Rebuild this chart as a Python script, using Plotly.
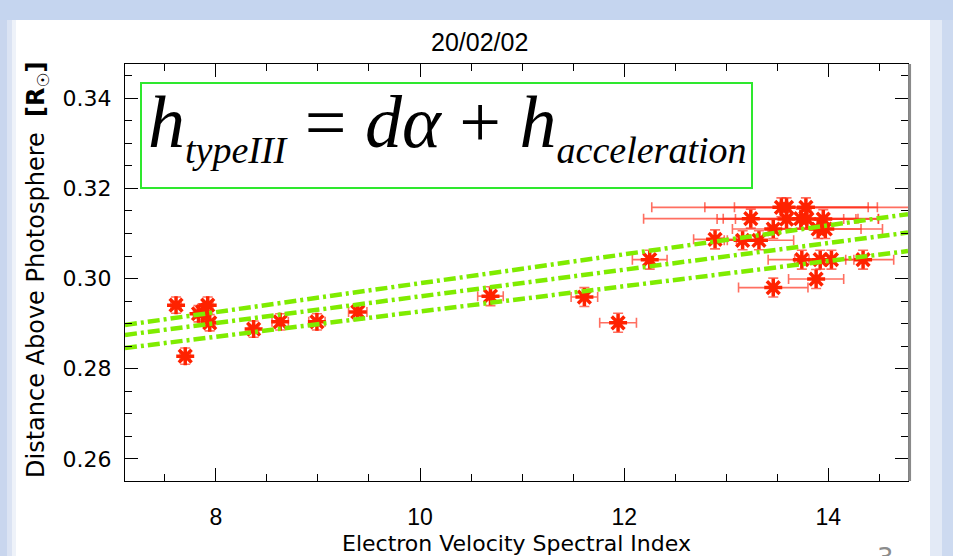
import plotly.graph_objects as go

# Electron velocity spectral index vs. height of type III onset, 20/02/02
alpha = [7.61, 7.70, 7.83, 7.87, 7.92, 7.94, 8.37, 8.63, 8.99, 9.39, 10.69, 11.61, 11.94,
         12.25, 12.89, 13.16, 13.32, 13.24, 13.46, 13.54, 13.59, 13.78, 13.59, 13.73,
         13.79, 13.95, 13.90, 13.97, 13.74, 13.92, 14.03, 14.34, 13.88, 13.46]
height = [0.2941, 0.2828, 0.2922, 0.2926, 0.2941, 0.2902, 0.2888, 0.2904, 0.2904, 0.2926,
          0.2961, 0.2959, 0.2902,
          0.3042, 0.3087, 0.3085, 0.3085, 0.3133, 0.3110, 0.3158, 0.3158, 0.3158, 0.3132,
          0.3133, 0.3132, 0.3132, 0.3110, 0.3110, 0.3042, 0.3042, 0.3042, 0.3042, 0.2999,
          0.2980]
alpha_err = [0.05, 0.05, 0.05, 0.05, 0.05, 0.05, 0.05, 0.08, 0.08, 0.09, 0.125, 0.13, 0.18,
             0.17, 0.21, 0.15, 0.34, 1.05, 0.40, 1.27, 0.80, 0.70, 0.68, 0.76,
             0.70, 0.20, 0.42, 0.56, 0.33, 0.25, 0.22, 0.30, 0.27, 0.34]
height_err = [0.0018] * 10 + [0.0021] * 24

# linear fit with its two bounding lines, given at the x-axis limits
fit_x = [7.11, 14.78]
fit_upper = [0.2897, 0.3143]
fit_mid = [0.2875, 0.3102]
fit_lower = [0.2846, 0.3061]

x_range = [7.11, 14.78]
y_range = [0.2551, 0.3476]
x_ticks = [8, 10, 12, 14]
y_ticks = [0.26, 0.28, 0.30, 0.32, 0.34]

W, H = 953, 556
L, R, T, B = 125, 45, 64, 75
PW, PH = W - L - R, H - T - B


def px(xp):
    return (xp - L) / PW


def py(yp):
    return (H - B - yp) / PH


fig = go.Figure()

fig.add_trace(go.Scatter(
    x=alpha, y=height, mode="markers",
    marker=dict(symbol="asterisk-open", size=15, color="#ff2200",
                line=dict(color="#ff2200", width=3.5)),
    error_x=dict(type="data", array=alpha_err, color="rgba(255,50,30,0.7)",
                 thickness=1.6, width=5),
    error_y=dict(type="data", array=height_err, color="rgba(255,50,30,0.7)",
                 thickness=1.6, width=5),
    showlegend=False, hoverinfo="skip",
))

for ys in (fit_upper, fit_mid, fit_lower):
    fig.add_trace(go.Scatter(
        x=fit_x, y=ys, mode="lines",
        line=dict(color="#7fec00", width=4.5, dash="12px,4px,3px,4px"),
        showlegend=False, hoverinfo="skip",
    ))

axis_font = dict(family="Liberation Sans", size=23, color="#000")

fig.update_xaxes(
    range=x_range, tickvals=x_ticks, ticktext=[str(v) for v in x_ticks],
    ticks="inside", ticklen=13, tickwidth=1, tickcolor="#000",
    showline=True, linecolor="#000", linewidth=1, mirror="allticks",
    showgrid=False, zeroline=False, tickfont=axis_font,
    ticklabelstandoff=15,
    minor=dict(dtick=0.5, tick0=0, ticks="inside", ticklen=7, tickcolor="#000",
               showgrid=False),
)
fig.update_yaxes(
    range=y_range, tickvals=y_ticks, ticktext=[f"{v:.2f}" for v in y_ticks],
    ticks="inside", ticklen=13, tickwidth=1, tickcolor="#000",
    showline=True, linecolor="#000", linewidth=1, mirror="allticks",
    showgrid=False, zeroline=False,
    tickfont=dict(family="DejaVu Sans", size=22, color="#000"),
    ticklabelstandoff=8,
    minor=dict(dtick=0.005, tick0=0, ticks="inside", ticklen=7, tickcolor="#000",
               showgrid=False),
)

shapes = [
    # slide frame: top band and side gradients
    dict(type="rect", xref="paper", yref="paper", x0=px(0), x1=px(W), y0=py(20), y1=py(0),
         fillcolor="#c5d5ef", line_width=0, layer="below"),
    dict(type="rect", xref="paper", yref="paper", x0=px(0), x1=px(7), y0=py(H), y1=py(20),
         fillcolor="#c9d6ee", line_width=0, layer="below"),
    dict(type="rect", xref="paper", yref="paper", x0=px(7), x1=px(12), y0=py(H), y1=py(20),
         fillcolor="#dbe3f3", line_width=0, layer="below"),
    dict(type="rect", xref="paper", yref="paper", x0=px(12), x1=px(16), y0=py(H), y1=py(20),
         fillcolor="#eef2f9", line_width=0, layer="below"),
    dict(type="rect", xref="paper", yref="paper", x0=px(942), x1=px(W), y0=py(H), y1=py(20),
         fillcolor="#cddaf0", line_width=0, layer="below"),
    dict(type="rect", xref="paper", yref="paper", x0=px(930), x1=px(942), y0=py(H), y1=py(20),
         fillcolor="#e3eaf6", line_width=0, layer="below"),
    # grey right-hand frame edge
    dict(type="line", xref="paper", yref="paper", x0=1.002, x1=1.002, y0=0, y1=1,
         line=dict(color="#8a8a8a", width=3)),
    # equation box
    dict(type="rect", xref="paper", yref="paper", x0=px(141), x1=px(752), y0=py(188), y1=py(83),
         fillcolor="white", line=dict(color="#2ee82e", width=2), layer="above"),
]

annotations = [
    dict(text="20/02/02", xref="paper", yref="paper", x=px(479), y=py(42),
         xanchor="center", yanchor="middle", showarrow=False,
         font=dict(family="Liberation Sans", size=25, color="#000")),
    dict(text="Electron Velocity Spectral Index", xref="paper", yref="paper",
         x=px(516), y=py(543), xanchor="center", yanchor="middle", showarrow=False,
         font=dict(family="DejaVu Sans", size=22, color="#000")),
    dict(text="Distance Above Photosphere  <b>[R<sub>☉</sub>]</b>", xref="paper", yref="paper",
         x=px(37), y=py(270), xanchor="center", yanchor="middle", textangle=-90,
         showarrow=False, font=dict(family="DejaVu Sans", size=24, color="#000")),
    dict(text=("<i>h</i><sub><i><span style=\"font-size:38px\">typeIII</span></i></sub>"
               " = <i>d\u03b1</i> + <i>h</i>"
               "<sub><i><span style=\"font-size:38px\">acceleration</span></i></sub>"),
         xref="paper", yref="paper", x=px(146), y=py(126), xanchor="left", yanchor="middle",
         showarrow=False, font=dict(family="Liberation Serif", size=74, color="#000")),
    dict(text="3", xref="paper", yref="paper", x=px(885), y=py(541),
         xanchor="center", yanchor="top", showarrow=False,
         font=dict(family="DejaVu Sans", size=26, color="#8c8c8c")),
]

fig.update_layout(
    width=W, height=H,
    margin=dict(l=L, r=R, t=T, b=B, autoexpand=False),
    paper_bgcolor="white", plot_bgcolor="white",
    shapes=shapes, annotations=annotations,
    showlegend=False,
)

fig.write_html("out.html")
